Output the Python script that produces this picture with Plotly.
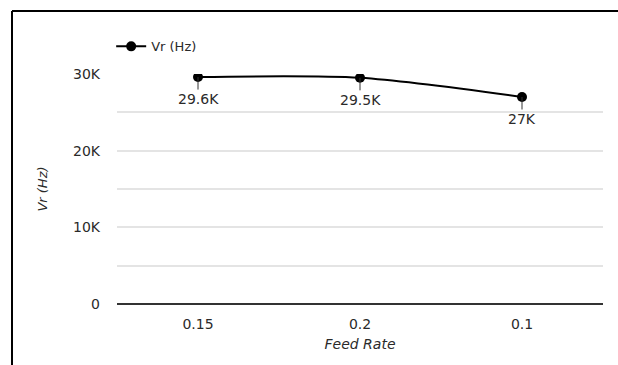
import plotly.graph_objects as go

categories = ["0.15", "0.2", "0.1"]
vr_values = [29600, 29500, 27000]
point_labels = ["29.6K", "29.5K", "27K"]
y_tick_vals = [0, 10000, 20000, 30000]
y_tick_text = ["0", "10K", "20K", "30K"]

FONT = "'DejaVu Sans', Roboto, sans-serif"
FS = 14
TXT = "#2a2a2a"

W, H = 618, 365
L, T, RR, BB = 117, 74, 603, 304
PW, PH = RR - L, BB - T

fig = go.Figure()
fig.add_trace(go.Scatter(
    x=categories, y=vr_values, mode="lines+markers", name="Vr (Hz)",
    line=dict(color="black", width=2, shape="spline", smoothing=0.8),
    marker=dict(color="black", size=10),
))

for i, (v, t) in enumerate(zip(vr_values, point_labels)):
    fig.add_annotation(x=i, y=v, xref="x", yref="y", text=t, showarrow=True,
                       arrowhead=0, arrowwidth=1, arrowcolor="#333", ax=0, ay=22,
                       font=dict(family=FONT, size=FS, color=TXT))

fig.update_layout(
    width=W, height=H,
    margin=dict(l=L, r=W - RR, t=T, b=H - BB),
    paper_bgcolor="white", plot_bgcolor="white",
    font=dict(family=FONT, size=FS, color=TXT),
    showlegend=True,
    legend=dict(x=-0.012, y=1.12, xanchor="left", yanchor="middle",
                orientation="h", font=dict(family=FONT, size=FS - 1, color=TXT),
                bgcolor="rgba(0,0,0,0)"),
    xaxis=dict(type="category", range=[-0.5, 2.5], showgrid=False,
               showline=False, zeroline=False, ticks="",
               ticklabelstandoff=10,
               title=dict(text="<i>Feed Rate</i>", standoff=8,
                          font=dict(family=FONT, size=FS, color=TXT))),
    yaxis=dict(range=[0, 30000], tickvals=y_tick_vals, ticktext=y_tick_text,
               showgrid=True, gridcolor="#e4e4e4", gridwidth=2,
               minor=dict(dtick=5000, tick0=0, showgrid=True,
                          gridcolor="#e4e4e4", gridwidth=2),
               zeroline=True, zerolinecolor="#333", zerolinewidth=2,
               showline=False, ticks="", ticklabelstandoff=16,
               title=dict(text="<i>Vr (Hz)</i>", standoff=22,
                          font=dict(family=FONT, size=FS - 1, color=TXT))),
)

# outer frame lines (top and left), as in the reference picture
fx = (12 - L) / PW
fy = (BB - 11) / PH
fig.add_shape(type="line", xref="paper", yref="paper",
              x0=fx, x1=1.2, y0=fy, y1=fy,
              line=dict(color="black", width=2))
fig.add_shape(type="line", xref="paper", yref="paper",
              x0=fx, x1=fx, y0=-0.5, y1=fy,
              line=dict(color="black", width=2))

fig.write_html("out.html", config={"displayModeBar": False},
               post_script="document.body.style.margin='0';document.body.style.overflow='hidden';")
